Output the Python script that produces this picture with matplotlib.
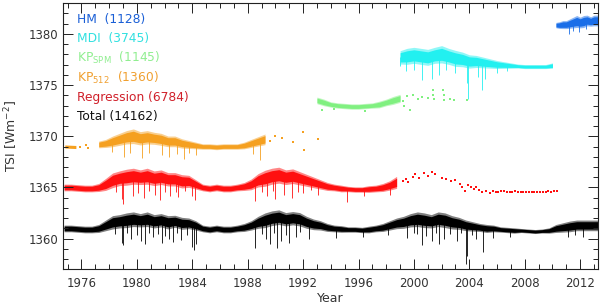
import numpy as np
import matplotlib
matplotlib.use("Agg")
import matplotlib.pyplot as plt
from matplotlib.ticker import MultipleLocator

# ---------------- data ----------------
# Total composite (black), half-year knots 1974.75 .. 2013.25
t_total = np.arange(1974.75, 2013.26, 0.5)
v_total = [1361.0, 1361.0, 1360.95, 1360.9, 1360.9, 1361.0, 1361.3, 1361.6, 1361.7, 1361.8,
           1361.9, 1361.8, 1361.9, 1361.7, 1361.8, 1361.6, 1361.7, 1361.5, 1361.5, 1361.3,
           1361.0, 1360.9, 1361.0, 1360.9, 1360.9, 1361.0, 1361.1, 1361.3, 1361.6, 1361.8,
           1362.0, 1362.1, 1361.9, 1362.0, 1361.9, 1361.6, 1361.4, 1361.3, 1361.1, 1361.0,
           1360.95, 1360.9, 1360.9, 1360.85, 1360.9, 1361.0, 1361.1, 1361.3, 1361.5, 1361.6,
           1361.8, 1361.9, 1361.8, 1361.7, 1361.9, 1361.8, 1361.6, 1361.5, 1361.3, 1361.2,
           1361.1, 1361.0, 1361.0, 1360.9, 1360.85, 1360.8, 1360.8, 1360.75, 1360.7, 1360.75,
           1360.8, 1361.0, 1361.1, 1361.2, 1361.3, 1361.3, 1361.3, 1361.3]
s_total = [0.25, 0.25, 0.25, 0.25, 0.25, 0.3, 0.4, 0.5, 0.5, 0.55,
           0.55, 0.5, 0.55, 0.5, 0.5, 0.5, 0.45, 0.45, 0.4, 0.35,
           0.25, 0.25, 0.25, 0.25, 0.25, 0.25, 0.3, 0.35, 0.45, 0.55,
           0.55, 0.55, 0.5, 0.5, 0.5, 0.45, 0.4, 0.35, 0.3, 0.25,
           0.25, 0.2, 0.2, 0.2, 0.25, 0.25, 0.3, 0.35, 0.4, 0.45,
           0.5, 0.55, 0.55, 0.5, 0.55, 0.55, 0.5, 0.45, 0.4, 0.35,
           0.3, 0.3, 0.25, 0.2, 0.2, 0.2, 0.15, 0.15, 0.15, 0.15,
           0.2, 0.3, 0.35, 0.4, 0.4, 0.4, 0.4, 0.4]
dip_total_t = [1978.9, 1979.0, 1979.6, 1980.3, 1980.6, 1981.2, 1981.8, 1982.3, 1982.6, 1983.2,
               1984.0, 1984.1, 1984.3, 1988.5, 1989.3, 1989.6, 1990.1, 1990.4, 1991.0, 1991.5,
               1992.4, 1994.4, 1996.3, 1998.1, 1999.5, 2000.2, 2000.6, 2001.3, 2001.8, 2002.2,
               2003.1, 2003.75, 2003.85, 2004.5, 2005.0, 2005.7, 2006.9, 2011.1, 2011.6, 2012.2,
               1978.4, 1979.3, 1980.0, 1980.9, 1981.5, 1982.0, 1982.9, 1983.6, 1989.0, 1989.9,
               1990.8, 1991.8, 2000.0, 2000.9, 2001.6, 2002.6, 2003.4, 2004.2]
dip_total_v = [1359.6, 1359.4, 1360.0, 1359.8, 1359.5, 1360.2, 1359.6, 1360.0, 1359.7, 1359.9,
               1359.2, 1358.9, 1359.5, 1359.1, 1360.0, 1359.5, 1359.1, 1359.8, 1359.6, 1360.2,
               1360.0, 1360.1, 1360.2, 1360.4, 1360.1, 1360.5, 1359.4, 1359.8, 1359.5, 1360.0,
               1359.8, 1357.5, 1358.3, 1360.0, 1358.7, 1360.1, 1360.2, 1360.2, 1360.4, 1360.2,
               1360.5, 1360.6, 1360.4, 1360.6, 1360.5, 1360.3, 1360.6, 1360.4, 1360.5, 1360.6,
               1360.4, 1360.7, 1360.6, 1360.3, 1360.6, 1360.5, 1360.6, 1360.4]

# Regression (red), half-year knots 1974.75 .. 1998.75
t_reg = np.arange(1974.75, 1998.76, 0.5)
v_reg = [1365.0, 1365.0, 1364.95, 1364.9, 1364.9, 1365.0, 1365.3, 1365.7, 1365.9, 1366.0,
         1366.1, 1366.0, 1366.1, 1365.9, 1366.0, 1365.8, 1365.8, 1365.6, 1365.6, 1365.3,
         1365.0, 1364.9, 1365.0, 1364.9, 1364.9, 1365.0, 1365.1, 1365.3, 1365.7, 1365.9,
         1366.1, 1366.2, 1366.0, 1366.1, 1365.9, 1365.7, 1365.5, 1365.3, 1365.1, 1365.0,
         1364.9, 1364.85, 1364.8, 1364.8, 1364.85, 1364.9, 1365.0, 1365.2, 1365.5]
s_reg = [0.25, 0.25, 0.25, 0.25, 0.25, 0.3, 0.45, 0.55, 0.55, 0.6,
         0.6, 0.55, 0.6, 0.55, 0.55, 0.5, 0.5, 0.5, 0.45, 0.35,
         0.25, 0.25, 0.25, 0.25, 0.25, 0.25, 0.3, 0.4, 0.5, 0.6,
         0.6, 0.6, 0.55, 0.55, 0.5, 0.45, 0.4, 0.35, 0.3, 0.25,
         0.25, 0.2, 0.2, 0.2, 0.25, 0.25, 0.3, 0.35, 0.45]
dip_reg_t = [1978.9, 1979.0, 1979.7, 1980.5, 1981.3, 1981.7, 1982.4, 1983.0, 1984.0, 1984.2,
             1988.5, 1989.4, 1990.0, 1990.6, 1991.2, 1992.0, 1993.1, 1995.2, 1996.4, 1998.3,
             1978.5, 1980.1, 1980.9, 1982.0, 1982.8, 1983.5, 1989.0, 1989.8, 1991.6, 1992.6]
dip_reg_v = [1363.9, 1363.4, 1364.2, 1364.0, 1364.3, 1363.8, 1364.2, 1364.1, 1364.2, 1363.8,
             1363.7, 1364.2, 1363.9, 1364.3, 1364.0, 1364.5, 1364.3, 1363.6, 1364.2, 1364.3,
             1364.6, 1364.5, 1364.7, 1364.6, 1364.6, 1364.7, 1364.6, 1364.7, 1364.6, 1364.8]
sp_reg_t = [1999.2, 1999.4, 1999.6, 1999.9, 2000.1, 2000.4, 2000.7, 2001.0, 2001.3, 2001.5,
            2002.0, 2002.3, 2002.7, 2003.0, 2003.3, 2003.5, 2003.7, 2003.9, 2004.1, 2004.3,
            2004.5, 2004.7, 2004.9, 2005.2, 2005.5, 2005.7, 2005.9, 2006.1, 2006.3, 2006.5,
            2006.7, 2006.9, 2007.1, 2007.3, 2007.5, 2007.7, 2007.9, 2008.1, 2008.3, 2008.5,
            2008.7, 2008.9, 2009.1, 2009.3, 2009.5, 2009.7, 2009.9, 2010.1, 2010.3]
sp_reg_v = [1365.6, 1365.8, 1365.5, 1366.0, 1366.3, 1365.9, 1366.4, 1366.1, 1366.5, 1366.3,
            1365.9, 1365.8, 1365.6, 1365.7, 1365.3, 1365.0, 1364.7, 1365.2, 1365.0, 1364.9,
            1365.0, 1364.8, 1364.6, 1364.7, 1364.5, 1364.7, 1364.6, 1364.6, 1364.65, 1364.7,
            1364.6, 1364.6, 1364.6, 1364.65, 1364.6, 1364.6, 1364.55, 1364.6, 1364.55, 1364.6,
            1364.6, 1364.6, 1364.55, 1364.6, 1364.6, 1364.65, 1364.6, 1364.65, 1364.7]

# KP512 (orange)
t_kp512 = np.arange(1977.25, 1989.26, 0.5)
v_kp512 = [1369.2, 1369.3, 1369.5, 1369.7, 1369.9, 1370.0, 1369.8, 1369.9, 1369.8, 1369.7,
           1369.5, 1369.5, 1369.3, 1369.2, 1369.1, 1369.0, 1369.0, 1368.95, 1369.0, 1369.0,
           1369.0, 1369.1, 1369.3, 1369.5, 1369.7]
s_kp512 = [0.25, 0.3, 0.4, 0.45, 0.5, 0.55, 0.5, 0.5, 0.45, 0.45,
           0.4, 0.4, 0.35, 0.3, 0.25, 0.2, 0.2, 0.2, 0.2, 0.2,
           0.2, 0.25, 0.3, 0.35, 0.4]
t_kp512_early = [1974.8, 1975.6]
v_kp512_early = [1369.0, 1368.95]
dip_kp512_t = [1978.2, 1979.1, 1979.5, 1980.4, 1980.9, 1981.8, 1982.3, 1982.9, 1983.4, 1983.8,
               1984.3, 1988.4, 1988.9]
dip_kp512_v = [1368.5, 1368.0, 1368.4, 1367.9, 1368.4, 1368.2, 1368.0, 1368.3, 1367.8, 1368.4,
               1368.2, 1368.3, 1367.7]
sp_kp512_t = [1975.9, 1976.3, 1976.5, 1989.6, 1990.0, 1990.5, 1991.3, 1992.0, 1992.1, 1993.1]
sp_kp512_v = [1369.0, 1369.1, 1368.9, 1369.5, 1370.0, 1369.8, 1369.4, 1370.4, 1368.7, 1369.7]

# KP SPM (green)
t_kpspm = np.arange(1993.0, 1999.01, 0.5)
v_kpspm = [1373.5, 1373.3, 1373.1, 1373.0, 1372.95, 1372.9, 1372.9, 1372.95, 1373.0, 1373.1,
           1373.3, 1373.5, 1373.7]
s_kpspm = [0.25, 0.25, 0.2, 0.2, 0.2, 0.2, 0.2, 0.2, 0.2, 0.25, 0.25, 0.3, 0.3]
sp_kpspm_t = [1993.4, 1994.2, 1996.5, 1999.2, 1999.3, 1999.5, 1999.7, 1999.9, 2000.3, 2000.6,
              2001.0, 2001.4, 2001.4, 2001.45, 2002.1, 2002.15, 2002.2, 2002.6, 2002.9, 2003.8]
sp_kpspm_v = [1372.6, 1372.7, 1372.5, 1373.4, 1373.0, 1373.9, 1372.6, 1374.0, 1373.6, 1373.8,
              1373.7, 1374.5, 1374.0, 1373.6, 1374.5, 1374.0, 1373.5, 1373.6, 1373.5, 1373.5]

# MDI (cyan)
t_mdi = np.arange(1999.0, 2010.01, 0.5)
v_mdi = [1377.7, 1377.8, 1377.9, 1377.8, 1377.7, 1377.9, 1378.0, 1377.8, 1377.6, 1377.5,
         1377.3, 1377.3, 1377.2, 1377.1, 1377.0, 1376.95, 1376.9, 1376.85, 1376.8, 1376.8,
         1376.8, 1376.8, 1376.9]
s_mdi = [0.5, 0.6, 0.6, 0.6, 0.6, 0.6, 0.65, 0.6, 0.6, 0.55,
         0.5, 0.45, 0.4, 0.35, 0.3, 0.25, 0.2, 0.15, 0.15, 0.15,
         0.15, 0.15, 0.2]
dip_mdi_t = [1999.0, 1999.4, 2000.0, 2000.6, 2001.3, 2001.8, 2002.3, 2003.0, 2003.9, 2003.8,
             2004.6, 2004.9, 2005.1, 2006.0, 2006.7]
dip_mdi_v = [1376.9, 1376.4, 1376.5, 1375.5, 1375.6, 1376.0, 1376.5, 1376.2, 1373.6, 1375.2,
             1375.8, 1374.5, 1375.6, 1376.2, 1376.4]

# HM (blue)
t_hm = np.arange(2010.25, 2013.26, 0.25)
v_hm = [1380.85, 1380.85, 1380.9, 1380.9, 1381.0, 1381.1, 1381.2, 1381.1, 1381.2, 1381.3,
        1381.2, 1381.3, 1381.3]
s_hm = [0.2, 0.25, 0.3, 0.3, 0.35, 0.4, 0.45, 0.4, 0.45, 0.4, 0.35, 0.4, 0.4]
dip_hm_t = [2011.2, 2011.5, 2011.9, 2012.4]
dip_hm_v = [1380.0, 1380.3, 1380.2, 1380.5]

labels = ["HM  (1128)", "MDI  (3745)", r"KP$_{\mathrm{SPM}}$  (1145)",
          r"KP$_{\mathrm{512}}$  (1360)", "Regression (6784)", "Total (14162)"]
label_colors = ["#1a5fd6", "#30e0e0", "#90ee90", "#f0a030", "#d0202a", "#111111"]

c_hm, c_mdi, c_spm, c_512, c_reg, c_tot = "#1a6ee8", "#22f0f0", "#80f080", "#f5a020", "#ff1010", "#000000"

# ---------------- figure ----------------
fig = plt.figure(figsize=(6.0, 3.07), dpi=100)
ax = fig.add_axes([0.105, 0.124, 0.892, 0.866])

def band(t, v, s, color):
    v = np.asarray(v); s = np.asarray(s)
    ax.fill_between(t, v - 1.3 * s, v + 1.3 * s, color=color, lw=0, alpha=0.5)
    ax.fill_between(t, v - 0.9 * s, v + 0.9 * s, color=color, lw=0)

def dips(t, base_t, base_v, v, color):
    top = np.interp(t, base_t, base_v)
    ax.vlines(t, v, top, color=color, lw=0.6)

band(t_total, v_total, s_total, c_tot)
dips(dip_total_t, t_total, v_total, dip_total_v, c_tot)

band(t_reg, v_reg, s_reg, c_reg)
dips(dip_reg_t, t_reg, v_reg, dip_reg_v, c_reg)
ax.scatter(sp_reg_t, sp_reg_v, s=3, marker='s', color=c_reg, lw=0)

band(t_kp512, v_kp512, s_kp512, c_512)
ax.fill_between(t_kp512_early, np.array(v_kp512_early) - 0.15, np.array(v_kp512_early) + 0.15,
                color=c_512, lw=0)
dips(dip_kp512_t, t_kp512, v_kp512, dip_kp512_v, c_512)
ax.scatter(sp_kp512_t, sp_kp512_v, s=3, marker='s', color=c_512, lw=0)

band(t_kpspm, v_kpspm, s_kpspm, c_spm)
ax.scatter(sp_kpspm_t, sp_kpspm_v, s=3, marker='s', color=c_spm, lw=0)

band(t_mdi, v_mdi, s_mdi, c_mdi)
dips(dip_mdi_t, t_mdi, v_mdi, dip_mdi_v, c_mdi)

band(t_hm, v_hm, s_hm, c_hm)
dips(dip_hm_t, t_hm, v_hm, dip_hm_v, c_hm)

ax.set_xlim(1974.67, 2013.3)
ax.set_ylim(1357.05, 1383.0)
ax.xaxis.set_major_locator(MultipleLocator(4))
ax.xaxis.set_minor_locator(MultipleLocator(1))
ax.yaxis.set_major_locator(MultipleLocator(5))
ax.yaxis.set_minor_locator(MultipleLocator(1))
ax.tick_params(which='both', direction='in', top=True, right=True, colors='#222222',
               labelsize=8.5, labelcolor='#333333')
ax.tick_params(which='major', length=7, width=0.7)
ax.tick_params(which='minor', length=3.5, width=0.7)
ax.tick_params(axis='x', which='major', pad=6)
for sp in ax.spines.values():
    sp.set_linewidth(0.8)
    sp.set_color('#222222')

ax.set_xlabel("Year", fontsize=9, color='#333333', labelpad=1)
ax.set_ylabel(r"TSI [Wm$^{-2}$]", fontsize=9, color='#333333', labelpad=6)

for i, (lab, col) in enumerate(zip(labels, label_colors)):
    ax.text(0.026, 0.94 - i * 0.0737, lab, transform=ax.transAxes, color=col,
            fontsize=8.8, va='center', ha='left')

fig.savefig("out.png", dpi=100)
